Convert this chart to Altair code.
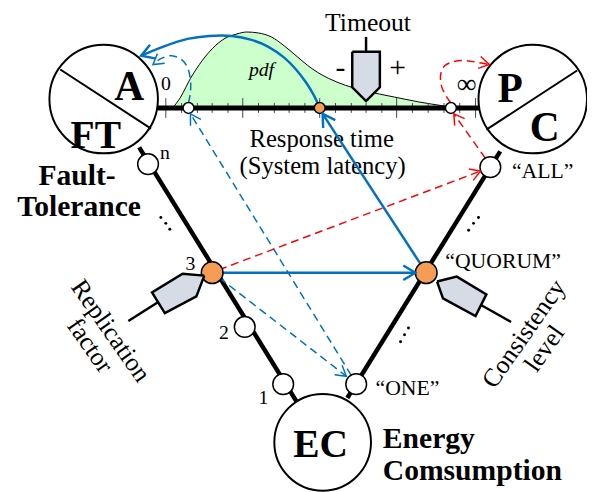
import altair as alt
import pandas as pd

# ---------------- data (picture coordinates, y downward) ----------------
XD = [8, 587]
YD = [8, 484]
FONT = "Liberation Serif"
BLUE = "#0070C0"
RED = "#FF0000"
ORANGE = "#F59D56"
GREEN = "#CCFFCC"
SLATE = "#D6DCE5"

# big circles (A/FT, P/C, EC)
big_x = [105, 540, 327]
big_y = [97, 97, 445]
big_d = [110, 110, 98]

# diagonals inside circles
diag_x = [61, 493]
diag_y = [67, 128]
diag_x2 = [153, 585]
diag_y2 = [127, 68]

# triangle sides
side_x = [141, 507]
side_y = [146, 150]
side_x2 = [302, 352]
side_y2 = [406, 400]

# response-time axis
axis_x, axis_x2, axis_y = [160], [487], [106]
tick_x = [168, 184, 200, 215, 231, 246, 262, 278, 293, 309, 324,
          340, 356, 371, 387, 402, 418, 434, 450, 466, 482]
tick_major = [1, 0, 0, 0, 0, 1, 0, 0, 0, 0, 1, 0, 0, 0, 0, 1, 0, 0, 0, 0, 1]

# pdf curve
pdf_x = [175, 183, 193, 202, 215, 227, 240, 250, 262, 275, 288, 300, 312,
         322, 333, 350, 367, 385, 400, 425, 450, 462]
pdf_y = [106, 95, 76, 62, 46, 36, 31, 29, 30, 34, 43, 53, 63,
         70, 76, 83, 88, 92, 95, 100, 104, 106]

# nodes
wnode_x = [150, 248, 287, 497, 361]
wnode_y = [163, 328, 386, 166, 386]
onode_x = [215, 432]
onode_y = [273, 273]
anode_x = [191, 457]
anode_y = [106, 106]
aonode_x = [324]
aonode_y = [106]

# ellipsis dots
dot_x = [163, 168, 172, 475, 480, 485, 406, 410, 414]
dot_y = [217, 223, 229, 230, 223, 217, 343, 336, 329]

# curves
bcurve_x = [324, 318, 310, 300, 288, 272, 255, 235, 212, 190, 165, 143]
bcurve_y = [106, 93, 80, 67, 55, 44, 37, 33, 33, 36, 44, 53]
hook_x = [191, 193, 193, 190, 184, 174, 163, 155]
hook_y = [101, 90, 78, 65, 57, 53, 56, 62]
loop_x = [457, 451, 447, 447, 451, 460, 472, 485, 496]
loop_y = [101, 92, 82, 70, 63, 59, 58, 60, 62]

# straight connectors
bsolid_x = [222, 432]
bsolid_y = [273, 273]
bsolid_x2 = [420, 327]
bsolid_y2 = [273, 112]
bdash_x = [222, 356]
bdash_y = [278, 377]
bdash_x2 = [351, 193]
bdash_y2 = [378, 112]
rdash_x = [222, 492]
rdash_y = [270, 157]
rdash_x2 = [487, 460]
rdash_y2 = [170, 112]

# arrowheads: tip x, y, direction (deg), colour group
arr_x = [143, 327, 421, 155, 193, 351, 487, 460, 496]
arr_y = [53, 112, 273, 62, 112, 378, 170, 112, 62]
arr_a = [160, 237, 0, 143, 239, 38, 339, 235, 12]
arr_k = ["bs", "bs", "bs", "bd", "bd", "bd", "rd", "rd", "rd"]

# pointers (pentagons)
ptr_id = ["t"] * 6 + ["r"] * 6 + ["c"] * 6
ptr_x = [357, 385, 385, 371, 357, 357,
         207, 185, 154, 167, 199, 207,
         443, 463, 493, 482, 449, 443]
ptr_y = [49, 49, 85, 99, 85, 49,
         276, 274, 293, 314, 297, 276,
         282, 277, 295, 317, 299, 282]
stem_x = [371, 160, 488]
stem_y = [34, 303, 306]
stem_x2 = [371, 130, 518]
stem_y2 = [49, 322, 323]

# texts
reg_t = ["Timeout", "Response time", "(System latency)", "\u201cALL\u201d",
         "\u201cQUORUM\u201d", "\u201cONE\u201d", "n", "3", "2", "1", "0"]
reg_x = [373, 326, 327, 550, 510, 413, 167, 193, 227, 267, 168]
reg_y = [28, 146, 173, 177, 268, 397, 158, 270, 340, 406, 88]
reg_s = [26, 25, 25, 22, 22, 22, 20, 20, 20, 20, 20]

sym_t = ["\u221e", "-", "+"]
sym_x = [473, 345, 403]
sym_y = [83, 66, 66]
sym_s = [28, 30, 30]

bold_t = ["A", "FT", "P", "C", "EC", "Fault-", "Tolerance"]
bold_x = [131, 97, 517, 552, 325, 78, 80]
bold_y = [98, 147, 100, 140, 460, 184, 216]
bold_s = [42, 40, 42, 42, 40, 30, 30]

boldl_t = ["Energy", "Comsumption"]
boldl_x = [388, 388]
boldl_y = [451, 483]

rot_t = ["Replication", "factor", "Consistency", "level"]
rot_x = [112, 91, 531, 552]
rot_y = [332, 347, 335, 350]
rot_a = [55, 55, 305, 305]


# ---------------- helpers ----------------
def X(f="x"):
    return alt.X(f"{f}:Q", scale=alt.Scale(domain=XD, nice=False, zero=False), axis=None)


def Y(f="y"):
    return alt.Y(f"{f}:Q", scale=alt.Scale(domain=YD, nice=False, zero=False, reverse=True), axis=None)


def seg_chart(xs, ys, x2s, y2s, **mk):
    df = pd.DataFrame({"x": xs, "y": ys, "x2": x2s, "y2": y2s})
    return alt.Chart(df).mark_rule(**mk).encode(x=X(), y=Y(), x2="x2:Q", y2="y2:Q")


def path_chart(xs, ys, **mk):
    df = pd.DataFrame({"x": xs, "y": ys, "i": list(range(len(xs)))})
    return alt.Chart(df).mark_line(**mk).encode(x=X(), y=Y(), order="i:Q")


def circles(xs, ys, d, fill, sw=1.5):
    df = pd.DataFrame({"x": xs, "y": ys, "s": [v * v for v in (d if isinstance(d, list) else [d] * len(xs))]})
    return alt.Chart(df).mark_point(shape="circle", fill=fill, stroke="black", strokeWidth=sw,
                                    opacity=1, fillOpacity=1, strokeOpacity=1).encode(
        x=X(), y=Y(), size=alt.Size("s:Q", scale=None))


def texts(ts, xs, ys, ss, angles=None, **mk):
    df = pd.DataFrame({"t": ts, "x": xs, "y": ys, "s": ss})
    enc = dict(x=X(), y=Y(), text="t:N", size=alt.Size("s:Q", scale=None))
    if angles is not None:
        df["a"] = angles
        enc["angle"] = alt.Angle("a:Q", scale=None)
    return alt.Chart(df).mark_text(font=FONT, color="black", **mk).encode(**enc)


# ---------------- layers ----------------
pdf_df = pd.DataFrame({"x": pdf_x, "y": pdf_y, "b": [106] * len(pdf_x)})
pdf_layer = alt.Chart(pdf_df).mark_area(
    color=GREEN, opacity=1, interpolate="monotone",
    line={"color": "black", "strokeWidth": 1}).encode(x=X(), y=Y(), y2="b:Q")

tick_df = pd.DataFrame({"x": tick_x,
                        "y": [96 if m else 101 for m in tick_major],
                        "y2": [116 if m else 111 for m in tick_major]})
tick_layer = alt.Chart(tick_df).mark_rule(color="#444444", strokeWidth=1).encode(
    x=X(), y=Y(), y2="y2:Q")
axis_layer = alt.Chart(pd.DataFrame({"x": axis_x, "x2": axis_x2, "y": axis_y})).mark_rule(
    color="black", strokeWidth=5).encode(x=X(), x2="x2:Q", y=Y())

sides = seg_chart(side_x, side_y, side_x2, side_y2, color="black", strokeWidth=4.5)
bigc = circles(big_x, big_y, big_d, "white", sw=2)
diags = seg_chart(diag_x, diag_y, diag_x2, diag_y2, color="black", strokeWidth=2)

b_solid = seg_chart(bsolid_x, bsolid_y, bsolid_x2, bsolid_y2, color=BLUE, strokeWidth=2.5)
b_curve = path_chart(bcurve_x, bcurve_y, color=BLUE, strokeWidth=2.5, interpolate="catmull-rom")
b_dash = seg_chart(bdash_x, bdash_y, bdash_x2, bdash_y2, color=BLUE, strokeWidth=1.5, strokeDash=[8, 5])
b_hook = path_chart(hook_x, hook_y, color=BLUE, strokeWidth=1.5, strokeDash=[8, 5], interpolate="catmull-rom")
r_dash = seg_chart(rdash_x, rdash_y, rdash_x2, rdash_y2, color=RED, strokeWidth=1.5, strokeDash=[8, 5])
r_loop = path_chart(loop_x, loop_y, color=RED, strokeWidth=1.5, strokeDash=[8, 5], interpolate="catmull-rom")

wn = circles(wnode_x, wnode_y, 21, "white")
on = circles(onode_x, onode_y, 22, ORANGE)
an = circles(anode_x, anode_y, 11, "white")
aon = circles(aonode_x, aonode_y, 11, ORANGE)

dots = alt.Chart(pd.DataFrame({"x": dot_x, "y": dot_y})).mark_circle(
    color="black", size=9, opacity=1).encode(x=X(), y=Y())

ptr_df = pd.DataFrame({"id": ptr_id, "x": ptr_x, "y": ptr_y, "i": list(range(len(ptr_x)))})
ptrs = alt.Chart(ptr_df).mark_line(fill=SLATE, stroke="black", strokeWidth=2.5,
                                   strokeJoin="miter").encode(
    x=X(), y=Y(), detail="id:N", order="i:Q")
stems = seg_chart(stem_x, stem_y, stem_x2, stem_y2, color="black", strokeWidth=2.5)

CHEV = "M -1 -0.6 L 0 0 L -1 0.6"
arr_df = pd.DataFrame({"x": arr_x, "y": arr_y, "a": arr_a, "k": arr_k})


def arrows(kind, color, sw, size):
    return alt.Chart(arr_df[arr_df.k == kind]).mark_point(
        shape=CHEV, filled=False, color=color, strokeWidth=sw, opacity=1, size=size).encode(
        x=X(), y=Y(), angle=alt.Angle("a:Q", scale=None))


arr_bs = arrows("bs", BLUE, 2.5, 600)
arr_bd = arrows("bd", BLUE, 1.5, 420)
arr_rd = arrows("rd", RED, 1.5, 420)

t_reg = texts(reg_t, reg_x, reg_y, reg_s, align="center", baseline="alphabetic")
t_sym = texts(sym_t, sym_x, sym_y, sym_s, align="center", baseline="middle")
t_bold = texts(bold_t, bold_x, bold_y, bold_s, align="center", baseline="alphabetic", fontWeight="bold")
t_boldl = texts(boldl_t, boldl_x, boldl_y, [30, 30], align="left", baseline="alphabetic", fontWeight="bold")
t_pdf = texts(["pdf"], [265], [74], [20], align="center", baseline="alphabetic", fontStyle="italic")
t_rot = texts(rot_t, rot_x, rot_y, [26] * 4, angles=rot_a, align="center", baseline="middle")

chart = alt.layer(
    pdf_layer, t_reg, t_sym, t_pdf, tick_layer, axis_layer, sides, bigc, diags,
    b_dash, b_hook, r_dash, r_loop, b_solid, b_curve,
    wn, on, an, aon, dots, stems, ptrs,
    t_bold, t_boldl, t_rot,
    arr_bs, arr_bd, arr_rd,
).properties(
    width=579, height=476,
    padding={"left": 0, "top": 0, "right": 8, "bottom": 8},
    autosize="none", background="white",
).configure_view(stroke=None)

chart.save("out.html", embed_options={"renderer": "svg", "actions": False})
